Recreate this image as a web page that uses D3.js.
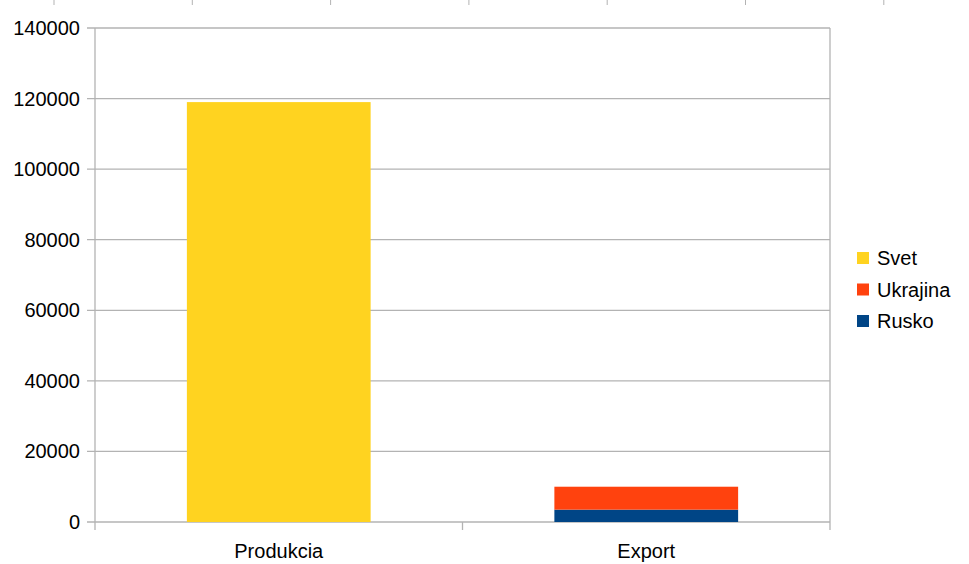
<!DOCTYPE html>
<html><head><meta charset="utf-8">
<script src="https://cdn.jsdelivr.net/npm/d3@7"></script>
<style>body{margin:0;background:#fff}svg{display:block;font-family:"Liberation Sans",Arial,sans-serif}</style>
</head><body><svg id="c" width="969" height="564"></svg>
<script>
const categories = ["Produkcia", "Export"];
const seriesNames = ["Svet", "Ukrajina", "Rusko"];
const svet = [119000, 0];
const ukrajina = [0, 6500];
const rusko = [0, 3500];
const yTicks = [0, 20000, 40000, 60000, 80000, 100000, 120000, 140000];
const colors = {"Svet": "#ffd320", "Ukrajina": "#ff420e", "Rusko": "#004586"};

const svg = d3.select("#c");
const L = 95, R = 830, T = 28, B = 522;
const x = d3.scaleBand().domain(categories).range([L, R]).paddingInner(0.5).paddingOuter(0.25);
const xEdge = d3.scaleLinear().domain([0, categories.length]).range([L, R]);
const y = d3.scaleLinear().domain([0, 140000]).range([B, T]);

// top stray ticks (from cropped chart above)
const topTicks = d3.range(7).map(i => 54 + i * 138.3);
svg.selectAll(".tt").data(topTicks).enter().append("line")
  .attr("x1", d => d).attr("x2", d => d).attr("y1", 0).attr("y2", 5)
  .attr("stroke", "#b3b3b3").attr("stroke-width", 1);

// gridlines
svg.selectAll(".grid").data(yTicks).enter().append("line")
  .attr("x1", L - 8).attr("x2", R).attr("y1", d => y(d)).attr("y2", d => y(d))
  .attr("stroke", "#b3b3b3").attr("stroke-width", 1.3);
svg.append("line").attr("x1", L).attr("x2", L).attr("y1", T).attr("y2", B + 8).attr("stroke", "#b3b3b3").attr("stroke-width", 1.3);
svg.append("line").attr("x1", R).attr("x2", R).attr("y1", T).attr("y2", B + 8).attr("stroke", "#b3b3b3").attr("stroke-width", 1.3);
svg.append("line").attr("x1", xEdge(1)).attr("x2", xEdge(1)).attr("y1", B).attr("y2", B + 8).attr("stroke", "#b3b3b3").attr("stroke-width", 1.3);

svg.selectAll(".yl").data(yTicks).enter().append("text")
  .attr("x", 80).attr("y", d => y(d)).attr("dy", "0.35em").attr("text-anchor", "end")
  .attr("font-size", 20).attr("fill", "#000").text(d => d);

// stacked bars
const data = categories.map((c, i) => ({cat: c, Svet: svet[i], Ukrajina: ukrajina[i], Rusko: rusko[i]}));
const stack = d3.stack().keys(["Rusko", "Ukrajina", "Svet"])(data);
stack.forEach(s => {
  svg.selectAll(".b" + s.key).data(s).enter().append("rect")
    .attr("x", d => x(d.data.cat)).attr("width", x.bandwidth())
    .attr("y", d => y(d[1])).attr("height", d => y(d[0]) - y(d[1]))
    .attr("fill", colors[s.key]);
});

svg.selectAll(".xl").data(categories).enter().append("text")
  .attr("x", d => x(d) + x.bandwidth() / 2).attr("y", 558).attr("text-anchor", "middle")
  .attr("font-size", 20).text(d => d);

// legend
const lg = svg.append("g");
seriesNames.forEach((n, i) => {
  lg.append("rect").attr("x", 857).attr("y", 252 + i * 31.5).attr("width", 12).attr("height", 12).attr("fill", colors[n]);
  lg.append("text").attr("x", 877).attr("y", 258 + i * 31.5).attr("dy", "0.35em").attr("font-size", 20).text(n);
});
</script></body></html>
